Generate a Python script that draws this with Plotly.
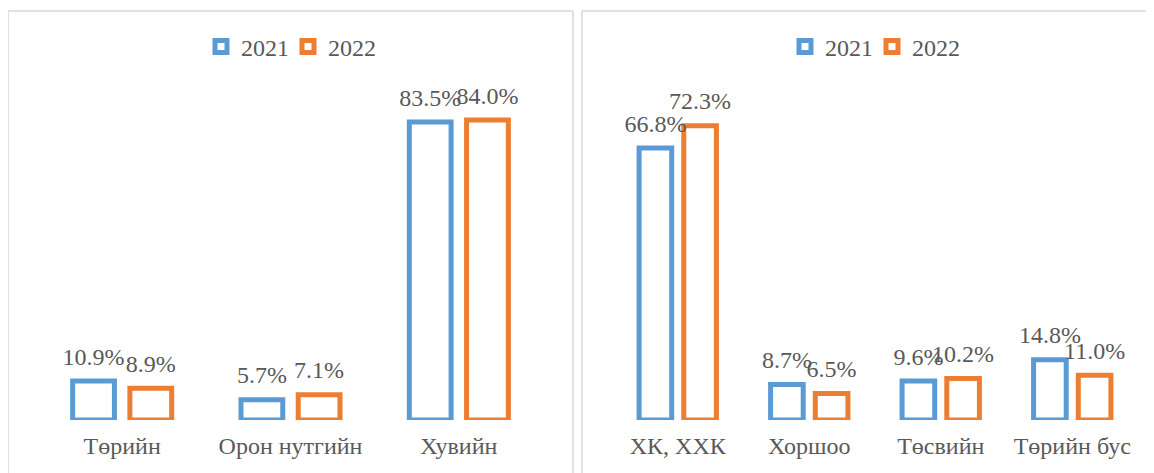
import plotly.graph_objects as go

# ---- data ----
cats_left = ["Төрийн", "Орон нутгийн", "Хувийн"]
left_2021 = [10.9, 5.7, 83.5]
left_2022 = [8.9, 7.1, 84.0]

cats_right = ["ХК, ХХК", "Хоршоо", "Төсвийн", "Төрийн бус"]
right_2021 = [66.8, 8.7, 9.6, 14.8]
right_2022 = [72.3, 6.5, 10.2, 11.0]

series_names = ["2021", "2022"]
colors = ["#5B9BD5", "#ED7D31"]

W, H = 1154, 473
OFF = 8  # page body margin offset
FONT = "Liberation Serif, Times New Roman, serif"
TXT = "#595959"
BORDER = "#D9D9D9"
GAP = 0.32


def px_x(x):
    return (x - OFF) / W


def px_y(y):
    return (H - (y - OFF)) / H


fig = go.Figure()

panels = [
    ("x", "y", "legend", cats_left, [left_2021, left_2022]),
    ("x2", "y2", "legend2", cats_right, [right_2021, right_2022]),
]

for xa, ya, lg, cats, series in panels:
    for i, (name, vals) in enumerate(zip(series_names, series)):
        fig.add_trace(go.Bar(
            x=cats, y=vals, name=name, xaxis=xa, yaxis=ya, legend=lg,
            marker=dict(color="rgba(255,255,255,1)", line=dict(color=colors[i], width=5)),
            hoverinfo="x+y",
        ))
    for i, (name, vals) in enumerate(zip(series_names, series)):
        fig.add_trace(go.Scatter(
            x=cats, y=vals, name=name, xaxis=xa, yaxis=ya, showlegend=False,
            mode="markers+text", orientation="v",
            marker=dict(size=15, color="rgba(0,0,0,0)", opacity=0),
            text=[f"{v:.1f}%" for v in vals], textposition="top center",
            textfont=dict(family=FONT, size=24, color=TXT),
            cliponaxis=False, hoverinfo="skip",
        ))

base_px, top_px = 420, 100
rng_left = (base_px - top_px) / 3.57
rng_right = (base_px - top_px) / 4.07

axis_common = dict(showgrid=False, zeroline=False, showline=False, ticks="",
                   tickfont=dict(family=FONT, size=24, color=TXT), fixedrange=True,
                   ticklabelstandoff=9)

legend_common = dict(orientation="h", yanchor="middle", y=px_y(47),
                     font=dict(family=FONT, size=24, color=TXT), itemwidth=30,
                     entrywidth=42, entrywidthmode="pixels",
                     tracegroupgap=0, bgcolor="rgba(0,0,0,0)")


def vline(x, y0, y1):
    return dict(type="line", xref="paper", yref="paper", x0=x, x1=x, y0=y0, y1=y1,
                line=dict(color=BORDER, width=1.5), layer="below")


def hline(x0, x1, y):
    return dict(type="line", xref="paper", yref="paper", x0=x0, x1=x1, y0=y, y1=y,
                line=dict(color=BORDER, width=1.5), layer="below")


top_y = px_y(11)
fig.update_layout(
    width=W, height=H,
    margin=dict(l=0, r=0, t=0, b=0),
    paper_bgcolor="white", plot_bgcolor="white",
    barmode="group", bargap=GAP, bargroupgap=0.27,
    scattermode="group", scattergap=GAP,
    showlegend=True,
    xaxis=dict(domain=[px_x(38), px_x(543)], anchor="y", **axis_common),
    yaxis=dict(domain=[px_y(base_px), px_y(top_px)], range=[0, rng_left], visible=False, anchor="x"),
    xaxis2=dict(domain=[px_x(612), px_x(1138)], anchor="y2", **axis_common),
    yaxis2=dict(domain=[px_y(base_px), px_y(top_px)], range=[0, rng_right], visible=False, anchor="x2"),
    legend=dict(x=px_x(201), xanchor="left", **legend_common),
    legend2=dict(x=px_x(785), xanchor="left", **legend_common),
    shapes=[
        vline(px_x(8), 0, top_y), vline(px_x(573), 0, top_y), hline(px_x(8), px_x(573), top_y),
        vline(px_x(582), 0, top_y), hline(px_x(582), 1.0, top_y),
    ],
)

fig.write_html("out.html")
